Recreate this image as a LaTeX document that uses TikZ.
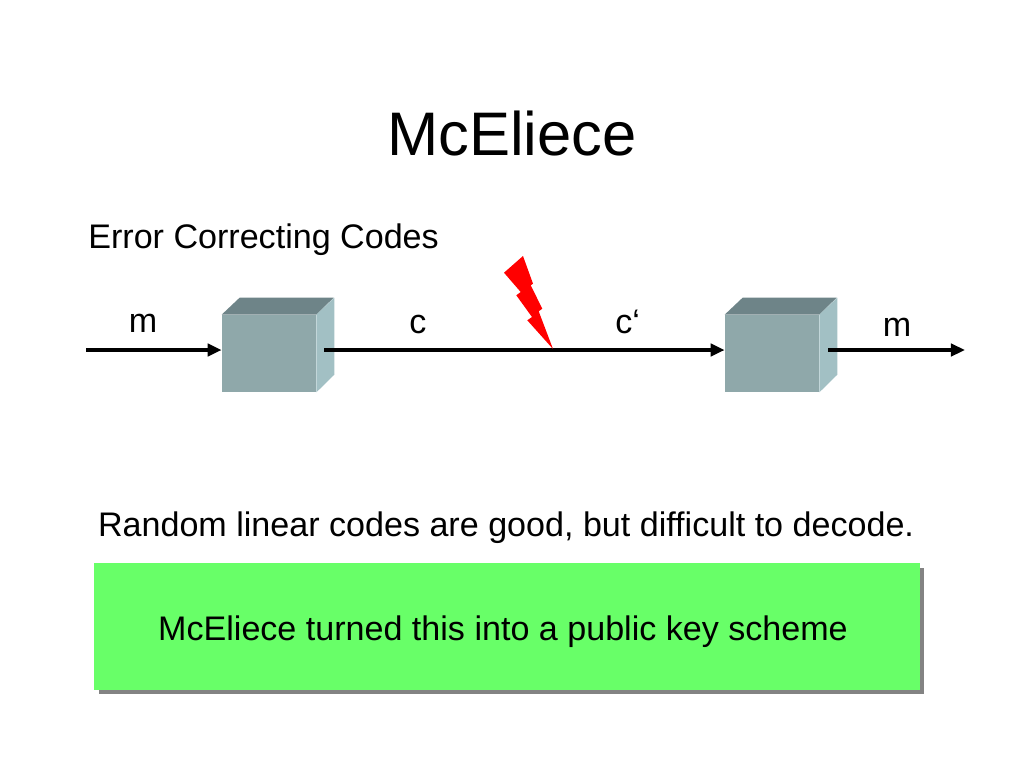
\documentclass[tikz,border=0pt]{standalone}
\usepackage{fontspec}
\setmainfont{Liberation Sans}
\usetikzlibrary{arrows.meta,shadows}
\definecolor{boxfront}{RGB}{143,168,170}
\definecolor{boxtop}{RGB}{110,132,136}
\definecolor{boxside}{RGB}{162,192,196}
\definecolor{keygreen}{RGB}{104,255,104}
\begin{document}
\begin{tikzpicture}[x=0.02cm,y=-0.02cm,
  txt/.style={inner sep=0pt,font=\fontsize{19.4}{23}\selectfont},
  wire/.style={line width=2.3pt,-{Triangle[length=8pt,width=7pt]}},
  front/.style={fill=boxfront,minimum width=1.88cm,minimum height=1.54cm,inner sep=0pt}]
\useasboundingbox (0,0) rectangle (1024,768);
\node[inner sep=0pt,anchor=base,font=\fontsize{35}{42}\selectfont] (title) at (512,155) {McEliece};
\node[txt,anchor=base west] (ecc) at (88,248) {Error Correcting Codes};
% encoder and decoder
\node[front] (enc) at (269,353.5) {};
\fill[boxtop] (enc.north west) -- ++(18,-17) -- ++(94,0) -- (enc.north east) -- cycle;
\fill[boxside] (enc.north east) -- ++(18,-17) -- ++(0,77) -- (enc.south east) -- cycle;
\node[front] (dec) at (772,353.5) {};
\fill[boxtop] (dec.north west) -- ++(18,-17) -- ++(94,0) -- (dec.north east) -- cycle;
\fill[boxside] (dec.north east) -- ++(18,-17) -- ++(0,77) -- (dec.south east) -- cycle;
\coordinate (in) at (86,350);
\coordinate (c1) at (324,350);
\coordinate (c2) at (828,350);
\coordinate (out) at (965,350);
\draw[wire] (in) -- (in -| enc.west);
\draw[wire] (c1) -- (c1 -| dec.west);
\draw[wire] (c2) -- (out);
\node[txt,anchor=base] (m1) at (143,332) {m};
\node[txt,anchor=base] (c) at (418,333) {c};
\node[txt,anchor=base west] (cc) at (615,333) {c‘};
\node[txt,anchor=base] (m2) at (897,336) {m};
% noise
\fill[red] (504,272.7) -- (523,256) -- (533,283.7) -- (530.7,285.3) -- (542.3,308.7)
  -- (538.7,311.3) -- (553,349) -- (527.3,320.3) -- (532,317) -- (516.3,295.3)
  -- (520.7,292) -- cycle;
\node[txt,anchor=base west] (rlc) at (97.7,536.7) {Random linear codes are good, but difficult to decode.};
\node[fill=keygreen,minimum width=16.52cm,minimum height=2.54cm,inner sep=0pt,
  drop shadow={shadow xshift=0.09cm,shadow yshift=-0.09cm,fill=black!65,opacity=0.75}] (key) at (507,626.5) {};
\node[txt,anchor=base] (keytxt) at (503,640) {McEliece turned this into a public key scheme};
\end{tikzpicture}
\end{document}
